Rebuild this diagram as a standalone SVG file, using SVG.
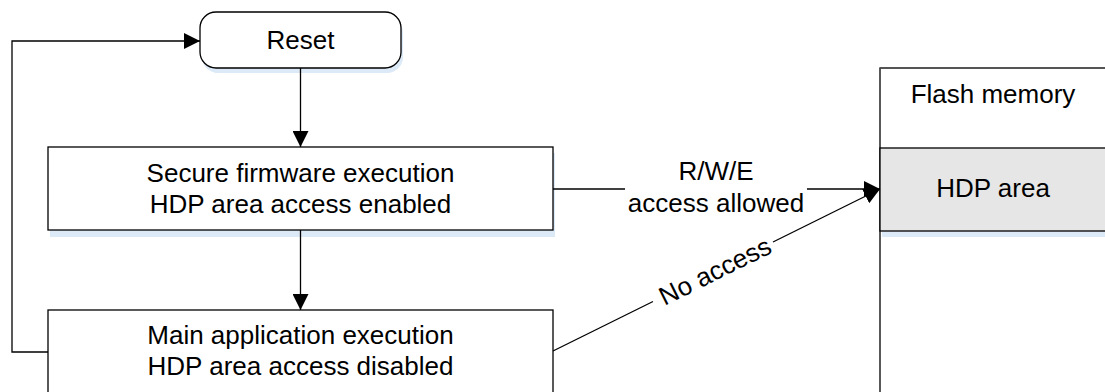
<svg xmlns="http://www.w3.org/2000/svg" width="1105" height="392" viewBox="0 0 1105 392">
<style>
.t{font-family:"Liberation Sans",Arial,sans-serif;font-size:26px;fill:#000;text-anchor:middle}
.box{fill:#fff;stroke:#000;stroke-width:1.3}
.sh{fill:#dce9f6;stroke:none}
.ln{fill:none;stroke:#000;stroke-width:1.3}
</style>
<defs>
<marker id="arr" markerUnits="userSpaceOnUse" markerWidth="17" markerHeight="16" refX="16" refY="8" orient="auto">
<path d="M0,0 L16,8 L0,16 Z" fill="#000"/>
</marker>
</defs>
<rect width="1105" height="392" fill="#fff"/>
<g id="flash">
<rect x="880" y="68" width="240" height="340" fill="#fff" stroke="#000" stroke-width="1.3"/>
<line x1="880" y1="68" x2="1105" y2="68" stroke="#555" stroke-width="1.5"/>
<text class="t" x="993" y="103">Flash memory</text>
</g>
<g id="hdp">
<rect class="sh" x="882" y="154" width="240" height="83"/>
<rect x="880" y="148" width="240" height="83" fill="#e6e6e6" stroke="#000" stroke-width="1.3"/>
<text class="t" x="993" y="197">HDP area</text>
</g>
<g id="reset">
<rect class="sh" x="202" y="17" width="201" height="56" rx="16"/>
<rect class="box" x="200" y="12" width="201" height="56" rx="16"/>
<text class="t" x="300.5" y="49">Reset</text>
</g>
<g id="secure">
<rect class="sh" x="50" y="153" width="505" height="84"/>
<rect class="box" x="48" y="147" width="505" height="83"/>
<text class="t" x="300.5" y="182">Secure firmware execution</text>
<text class="t" x="300.5" y="213">HDP area access enabled</text>
</g>
<g id="main">
<rect class="box" x="48" y="310" width="505" height="100"/>
<text class="t" x="300.5" y="344">Main application execution</text>
<text class="t" x="300.5" y="375">HDP area access disabled</text>
</g>
<g id="connectors">
<path class="ln" d="M300.5,68 V147" marker-end="url(#arr)"/>
<path class="ln" d="M300.5,230 V310" marker-end="url(#arr)"/>
<path class="ln" d="M48,352 H12 V41 H200" marker-end="url(#arr)"/>
<path class="ln" d="M553,189 H625"/>
<path class="ln" d="M807,189 H880" marker-end="url(#arr)"/>
<text class="t" x="716" y="180">R/W/E</text>
<text class="t" x="716" y="212">access allowed</text>
<path class="ln" d="M553,351 L653,301.5"/>
<path class="ln" d="M773,242 L880,189" marker-end="url(#arr)"/>
<text class="t" x="0" y="9" transform="translate(715,271) rotate(-26.35)">No access</text>
</g>
</svg>
